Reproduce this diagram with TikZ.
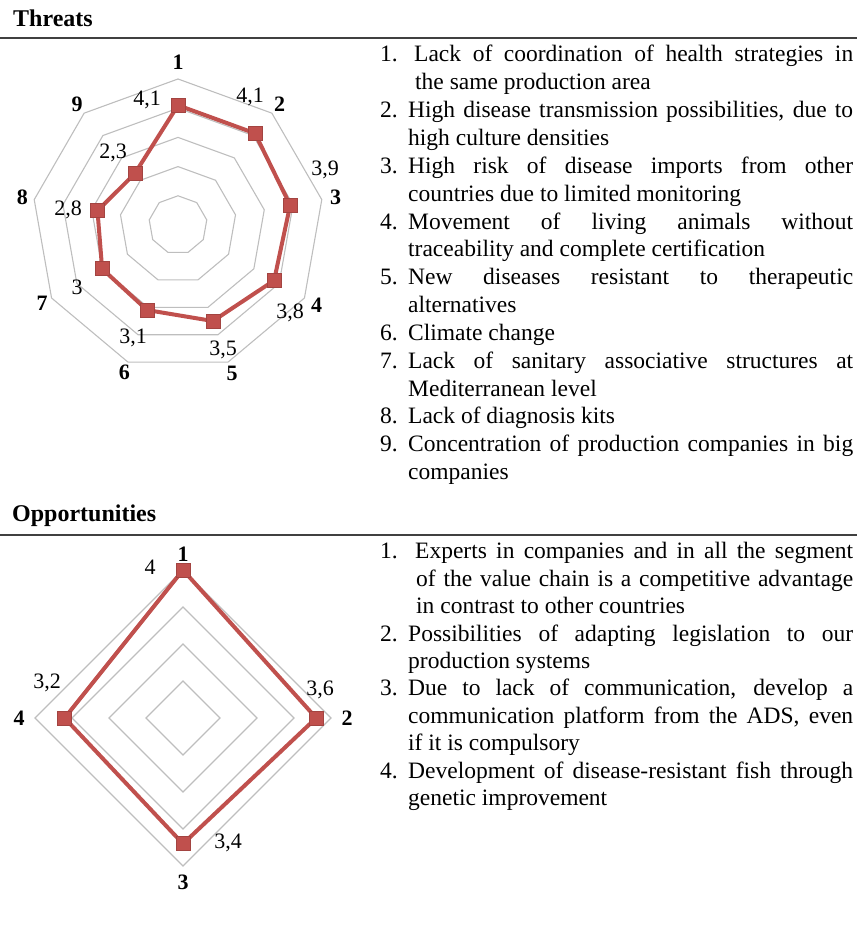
\documentclass[tikz,border=0pt]{standalone}
\usepackage{fontspec}
\setmainfont{Liberation Serif}
\usepackage{tikz}
\definecolor{chartred}{RGB}{192,80,77}
\definecolor{gridgray}{RGB}{190,190,190}
\tikzstyle{gridline} = [draw=gridgray,line width=1.1pt,line join=miter]
\tikzstyle{dataline} = [draw=chartred,line width=4pt,line join=miter]
\tikzstyle{marker} = [rectangle,fill=chartred,draw=chartred!85!black,line width=0.6pt,minimum size=14pt,inner sep=0pt]
\tikzstyle{axislabel} = [font=\fontsize{22}{24}\selectfont\bfseries,inner sep=0pt]
\tikzstyle{vallabel} = [font=\fontsize{22}{24}\selectfont,inner sep=0pt]
\tikzstyle{headtitle} = [font=\fontsize{24}{26}\selectfont\bfseries,inner sep=0pt,anchor=base west]
\tikzstyle{headrule} = [draw=black!75,line width=1.6pt]
\tikzstyle{itemlist} = [text width=473pt,align=justify,inner sep=0pt,anchor=base west]

\begin{document}
\begin{tikzpicture}[x=1pt,y=1pt]
\useasboundingbox (0,0) rectangle (857,926);

% threats
\node[headtitle] (threathead) at (13,899) {Threats};
\draw[headrule] (0,888) -- (857,888);

\begin{scope}[shift={(178,701)}]
  \foreach \r in {1,...,5}
    \draw[gridline] (90:\r*29.2) \foreach \k in {1,...,8}{-- (90-40*\k:\r*29.2)} -- cycle;
  \foreach \v [count=\i] in {4.1,4.1,3.9,3.8,3.5,3.1,3,2.8,2.3}
    \coordinate (t\i) at ({130-40*\i}:\v*29.2);
  \draw[dataline] (t1) -- (t2) -- (t3) -- (t4) -- (t5) -- (t6) -- (t7) -- (t8) -- (t9) -- cycle;
  \foreach \i in {1,...,9}
    \node[marker] (tm\i) at (t\i) {};
  \foreach \i/\rr in {1/163,2/158,3/160,4/160,5/158,6/157,7/157,8/158,9/157}
    \node[axislabel] (ta\i) at ({130-40*\i}:\rr) {\i};
  \node[vallabel] (tv1) at (-31,125) {4,1};
  \node[vallabel] (tv2) at (72,128) {4,1};
  \node[vallabel] (tv3) at (147,55) {3,9};
  \node[vallabel] (tv4) at (112,-88) {3,8};
  \node[vallabel] (tv5) at (45,-125) {3,5};
  \node[vallabel] (tv6) at (-45,-113) {3,1};
  \node[vallabel] (tv7) at (-101,-62) {3};
  \node[vallabel] (tv8) at (-110,15) {2,8};
  \node[vallabel] (tv9) at (-65,72) {2,3};
\end{scope}

\node[itemlist,font=\fontsize{23.5}{27.84}\selectfont] (threatlist) at (380,864) {%
\hangindent=35pt\hangafter=1\noindent\makebox[34pt][l]{1.}Lack of coordination of health strategies in\linebreak the same production area\par
\hangindent=28pt\hangafter=1\noindent\makebox[28pt][l]{2.}High disease transmission possibilities, due to\linebreak high culture densities\par
\hangindent=28pt\hangafter=1\noindent\makebox[28pt][l]{3.}High risk of disease imports from other\linebreak countries due to limited monitoring\par
\hangindent=28pt\hangafter=1\noindent\makebox[28pt][l]{4.}Movement of living animals without\linebreak traceability and complete certification\par
\hangindent=28pt\hangafter=1\noindent\makebox[28pt][l]{5.}New diseases resistant to therapeutic\linebreak alternatives\par
\hangindent=28pt\hangafter=1\noindent\makebox[28pt][l]{6.}Climate change\par
\hangindent=28pt\hangafter=1\noindent\makebox[28pt][l]{7.}Lack of sanitary associative structures at\linebreak Mediterranean level\par
\hangindent=28pt\hangafter=1\noindent\makebox[28pt][l]{8.}Lack of diagnosis kits\par
\hangindent=28pt\hangafter=1\noindent\makebox[28pt][l]{9.}Concentration of production companies in big\linebreak companies\par};

% opportunities
\node[headtitle] (opphead) at (12,404) {Opportunities};
\draw[headrule] (0,391) -- (857,391);

\begin{scope}[shift={(183,208)}]
  \foreach \r in {1,...,4}
    \draw[gridline] (90:\r*37) -- (0:\r*37) -- (-90:\r*37) -- (180:\r*37) -- cycle;
  \foreach \v [count=\i] in {4,3.6,3.4,3.2}
    \coordinate (o\i) at ({180-90*\i}:\v*37);
  \draw[dataline] (o1) -- (o2) -- (o3) -- (o4) -- cycle;
  \foreach \i in {1,...,4}
    \node[marker] (om\i) at (o\i) {};
  \foreach \i in {1,...,4}
    \node[axislabel] (oa\i) at ({180-90*\i}:164) {\i};
  \node[vallabel] (ov1) at (-33,151) {4};
  \node[vallabel] (ov2) at (137,28) {3,6};
  \node[vallabel] (ov3) at (45,-125) {3,4};
  \node[vallabel] (ov4) at (-136,35) {3,2};
\end{scope}

\node[itemlist,font=\fontsize{23.5}{27.4}\selectfont] (opplist) at (380,367) {%
\hangindent=36pt\hangafter=1\noindent\makebox[35pt][l]{1.}Experts in companies and in all the segment\linebreak of the value chain is a competitive advantage\linebreak in contrast to other countries\par
\hangindent=28pt\hangafter=1\noindent\makebox[28pt][l]{2.}Possibilities of adapting legislation to our\linebreak production systems\par
\hangindent=28pt\hangafter=1\noindent\makebox[28pt][l]{3.}Due to lack of communication, develop a\linebreak communication platform from the ADS, even\linebreak if it is compulsory\par
\hangindent=28pt\hangafter=1\noindent\makebox[28pt][l]{4.}Development of disease-resistant fish through\linebreak genetic improvement\par};
\end{tikzpicture}
\end{document}
